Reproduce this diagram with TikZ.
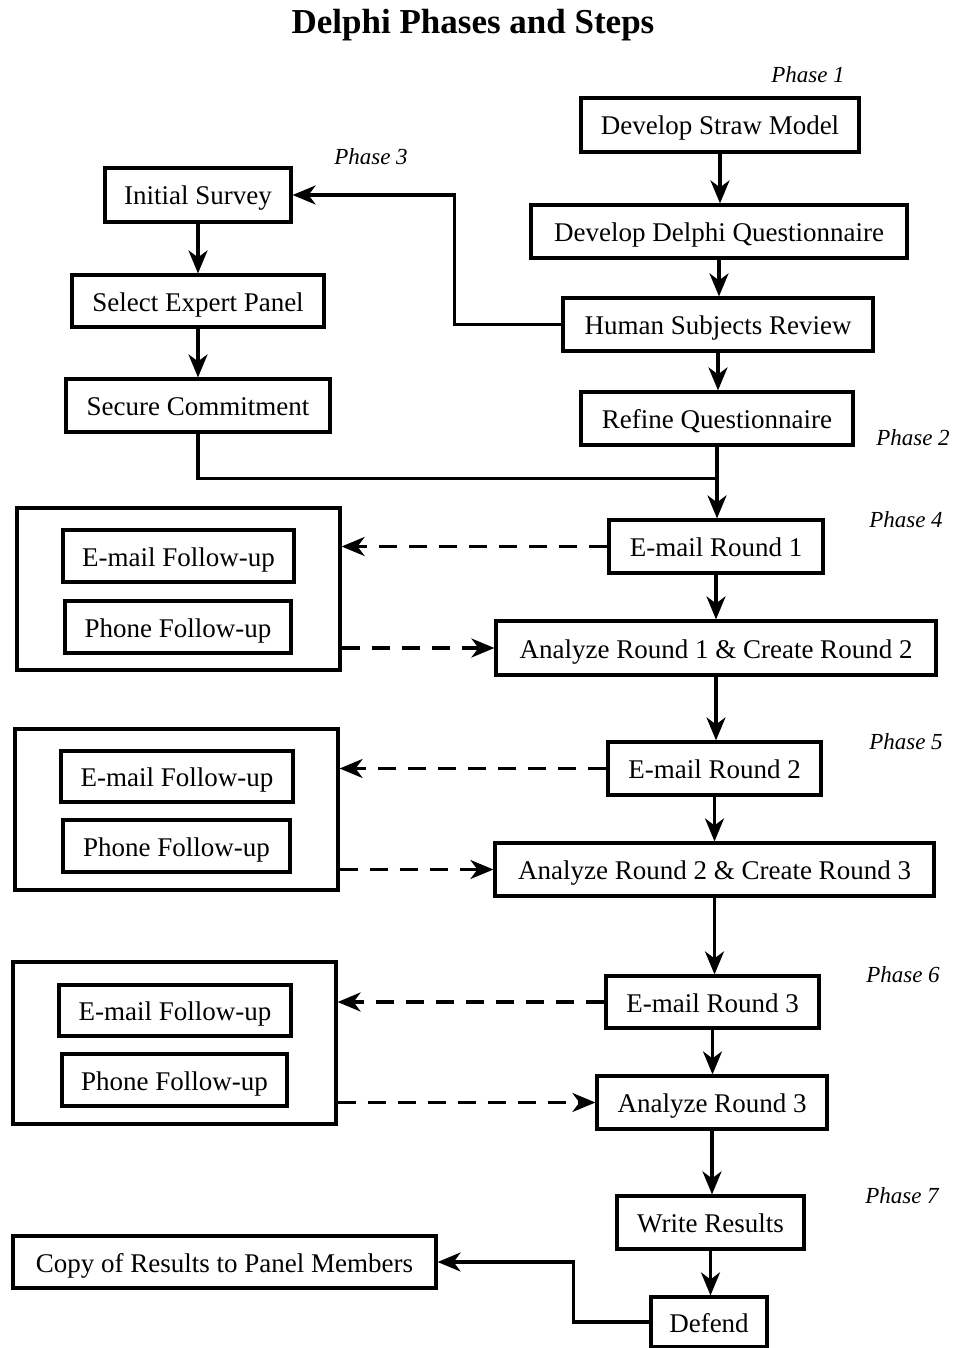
\documentclass[tikz,border=0pt]{standalone}
\usepackage{fontspec}
\setmainfont{Liberation Serif}
\usetikzlibrary{arrows.meta}
\begin{document}
\begin{tikzpicture}[x=1pt,y=-1pt,
  stepbox/.style={draw,line width=3.2pt,inner sep=0pt,text height=21pt,text depth=1pt,font=\fontsize{27}{30}\selectfont},
  groupbox/.style={draw,line width=3.2pt,inner sep=0pt},
  phase/.style={font=\itshape\fontsize{23}{25}\selectfont},
  flow/.style={line width=3.2pt},
  arr/.style={flow,-{Stealth[length=23pt,width=19pt,inset=7pt]}},
  darr/.style={arr,dash pattern=on 18pt off 12pt}]
\useasboundingbox (0,0) rectangle (953,1348);

% title
\node[font=\bfseries\fontsize{35}{40}\selectfont] (title) at (473,25) {Delphi Phases and Steps};

% phase labels
\node[phase] (ph1) at (808,75) {Phase 1};
\node[phase] (ph3) at (371,157) {Phase 3};
\node[phase] (ph2) at (913,438) {Phase 2};
\node[phase] (ph4) at (906,520) {Phase 4};
\node[phase] (ph5) at (906,742) {Phase 5};
\node[phase] (ph6) at (903,975) {Phase 6};
\node[phase] (ph7) at (902,1196) {Phase 7};

% main column
\node[stepbox,minimum width=278pt,minimum height=54pt] (straw) at (720,125) {Develop Straw Model};
\node[stepbox,minimum width=376pt,minimum height=53pt] (dq) at (719,231.5) {Develop Delphi Questionnaire};
\node[stepbox,minimum width=310pt,minimum height=53pt] (hsr) at (718,324.5) {Human Subjects Review};
\node[stepbox,minimum width=272pt,minimum height=53pt] (refine) at (717,418.5) {Refine Questionnaire};
\node[stepbox,minimum width=214pt,minimum height=53pt] (em1) at (716,546.5) {E-mail Round 1};
\node[stepbox,minimum width=440pt,minimum height=54pt] (an1) at (716,648) {Analyze Round 1 \& Create Round 2};
\node[stepbox,minimum width=213pt,minimum height=53pt] (em2) at (714.5,768.5) {E-mail Round 2};
\node[stepbox,minimum width=439pt,minimum height=53pt] (an2) at (714.5,869.5) {Analyze Round 2 \& Create Round 3};
\node[stepbox,minimum width=213pt,minimum height=52pt] (em3) at (712.5,1002) {E-mail Round 3};
\node[stepbox,minimum width=230pt,minimum height=53pt] (an3) at (712,1102.5) {Analyze Round 3};
\node[stepbox,minimum width=187pt,minimum height=53pt] (write) at (710.5,1222.5) {Write Results};
\node[stepbox,minimum width=116pt,minimum height=50pt] (defend) at (709,1322) {Defend};

% left column
\node[stepbox,minimum width=186pt,minimum height=54pt] (survey) at (198,195) {Initial Survey};
\node[stepbox,minimum width=252pt,minimum height=52pt] (select) at (198,301) {Select Expert Panel};
\node[stepbox,minimum width=264pt,minimum height=53pt] (secure) at (198,405.5) {Secure Commitment};
\node[stepbox,minimum width=423pt,minimum height=52pt] (copy) at (224.5,1262) {Copy of Results to Panel Members};

% follow-up groups
\node[groupbox,minimum width=323pt,minimum height=162pt] (g1) at (178.5,589) {};
\node[stepbox,minimum width=231pt,minimum height=52pt] (ef1) at (178.5,556) {E-mail Follow-up};
\node[stepbox,minimum width=226pt,minimum height=52pt] (pf1) at (178,627) {Phone Follow-up};

\node[groupbox,minimum width=323pt,minimum height=161pt] (g2) at (176.5,809.5) {};
\node[stepbox,minimum width=232pt,minimum height=51pt] (ef2) at (177,776.5) {E-mail Follow-up};
\node[stepbox,minimum width=227pt,minimum height=52pt] (pf2) at (176.5,846) {Phone Follow-up};

\node[groupbox,minimum width=323pt,minimum height=162pt] (g3) at (174.5,1043) {};
\node[stepbox,minimum width=232pt,minimum height=51pt] (ef3) at (175,1010.5) {E-mail Follow-up};
\node[stepbox,minimum width=225pt,minimum height=52pt] (pf3) at (174.5,1080) {Phone Follow-up};

% main flow
\draw[arr] (straw.south) -- (straw.south |- dq.north);
\draw[arr] (dq.south) -- (dq.south |- hsr.north);
\draw[arr] (hsr.south) -- (hsr.south |- refine.north);
\draw[arr] (refine.south) -- (refine.south |- em1.north);
\draw[arr] (em1.south) -- (em1.south |- an1.north);
\draw[arr] (an1.south) -- (an1.south |- em2.north);
\draw[arr] (em2.south) -- (em2.south |- an2.north);
\draw[arr] (an2.south) -- (an2.south |- em3.north);
\draw[arr] (em3.south) -- (em3.south |- an3.north);
\draw[arr] (an3.south) -- (an3.south |- write.north);
\draw[arr] (write.south) -- (write.south |- defend.north);

% branch to the panel selection
\draw[arr] (hsr.west) -| ([xshift=162pt]survey.east) -- (survey.east);
\draw[arr] (survey.south) -- (survey.south |- select.north);
\draw[arr] (select.south) -- (select.south |- secure.north);
\draw[flow] (secure.south) |- ([yshift=40pt]refine.south |- em1.north);

% follow-up loops
\draw[darr] (em1.west) -- (em1.west -| g1.east);
\draw[darr] (g1.east |- an1.west) -- (an1.west);
\draw[darr] (em2.west) -- (em2.west -| g2.east);
\draw[darr] (g2.east |- an2.west) -- (an2.west);
\draw[darr] (em3.west) -- (em3.west -| g3.east);
\draw[darr] (g3.east |- an3.west) -- (an3.west);

% results to panel
\draw[arr] (defend.west) -| ([xshift=136pt]copy.east) -- (copy.east);
\end{tikzpicture}
\end{document}
